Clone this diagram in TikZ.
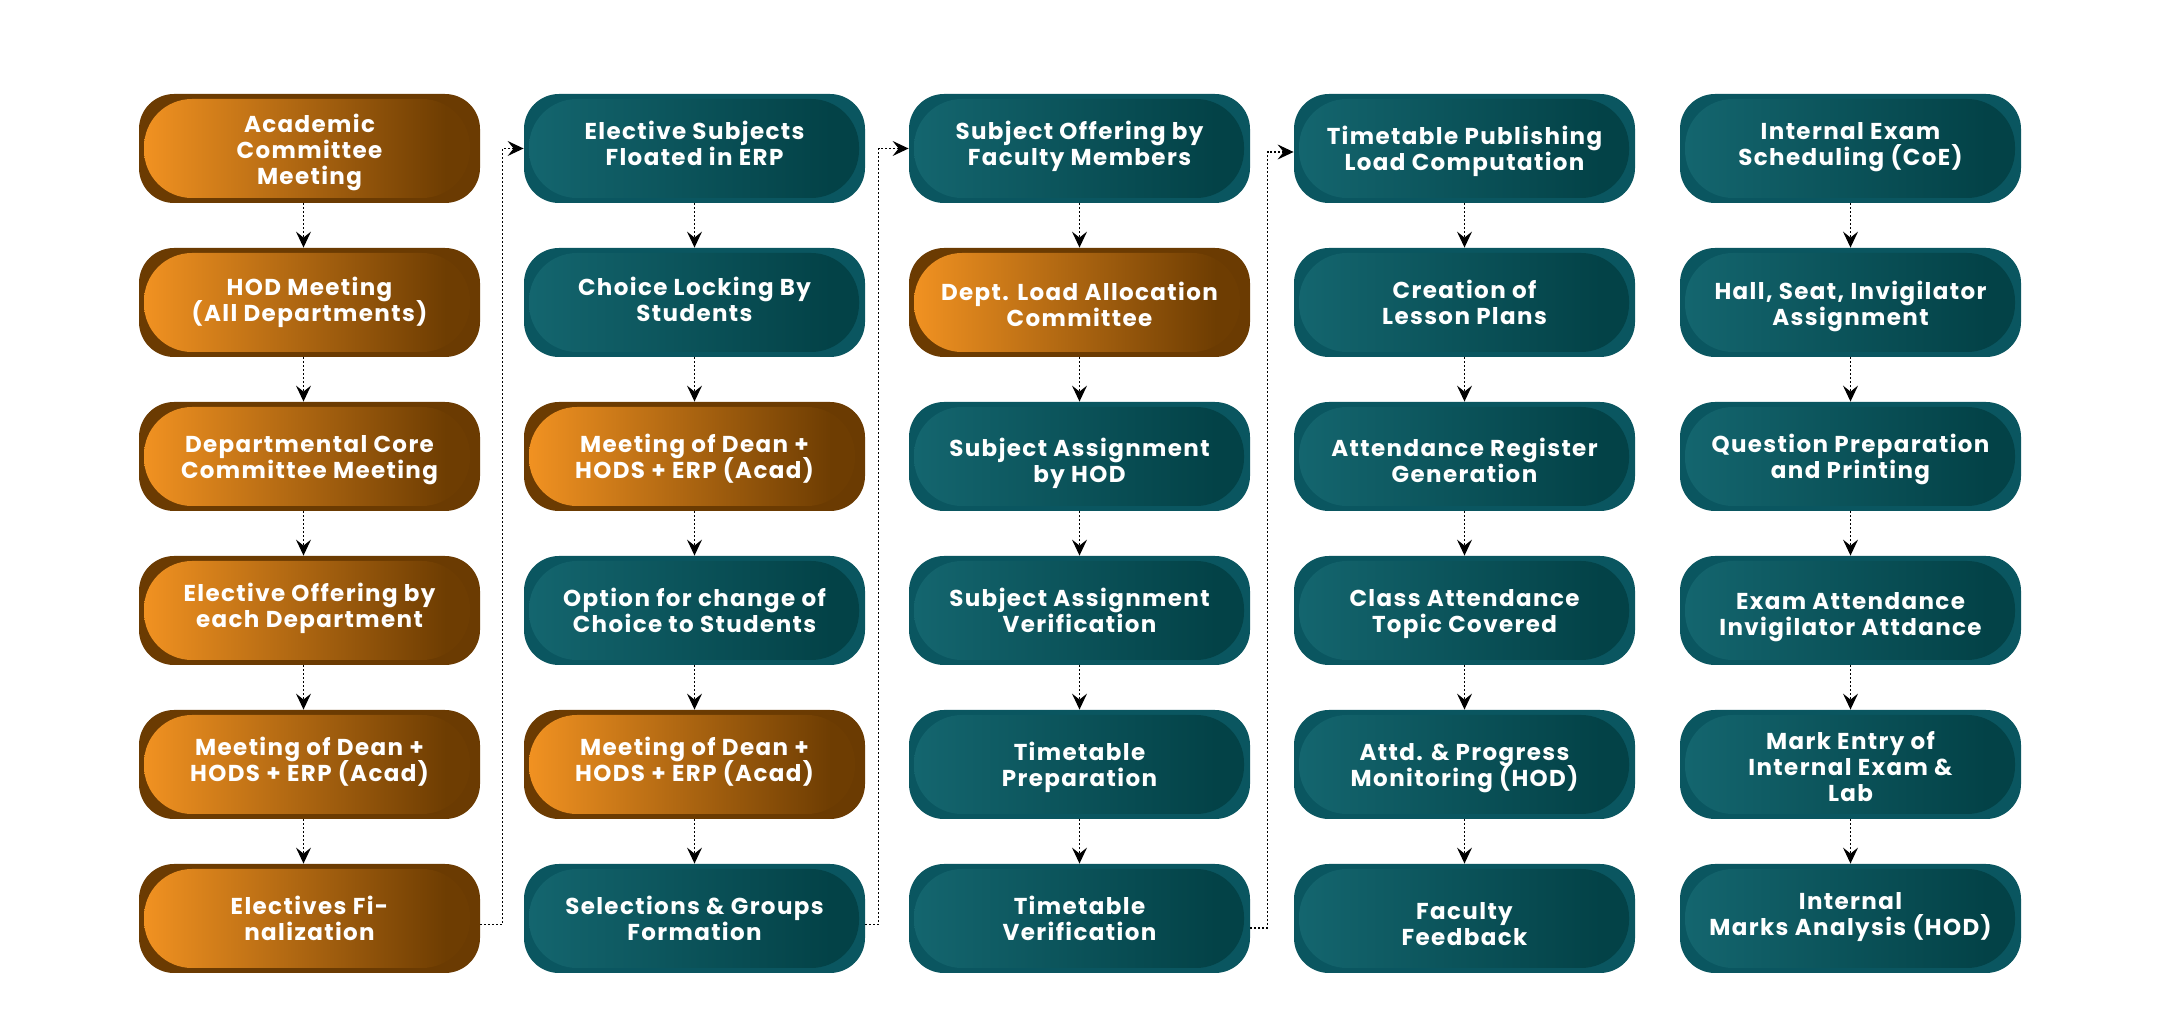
\documentclass[tikz,border=0pt]{standalone}
\usepackage{fontspec}
\setmainfont{Poppins}[LetterSpace=6]
\usetikzlibrary{arrows.meta,calc}
\definecolor{orA}{HTML}{F39322}
\definecolor{orB}{HTML}{6E3D02}
\definecolor{orOut}{HTML}{6B3B02}
\definecolor{tlA}{HTML}{14666F}
\definecolor{tlB}{HTML}{034247}
\definecolor{tlOut}{HTML}{0A5660}
\pgfdeclarehorizontalshading{orsh}{100bp}{color(0bp)=(orA); color(25bp)=(orA); color(70bp)=(orB); color(100bp)=(orB)}
\pgfdeclarehorizontalshading{tlsh}{100bp}{color(0bp)=(tlA); color(25bp)=(tlA); color(70bp)=(tlB); color(100bp)=(tlB)}
\tikzset{
  stepbox/.style={rectangle, rounded corners=17.5pt, minimum width=170.5pt, minimum height=54.5pt, inner sep=0pt, draw=none},
  orbox/.style={stepbox, fill=orOut, path picture={\shade[shading=orsh, rounded corners=24pt] ($(path picture bounding box.north west)+(2.5pt,-2.5pt)$) rectangle ($(path picture bounding box.south east)+(-5pt,2.5pt)$);}},
  tlbox/.style={stepbox, fill=tlOut, path picture={\shade[shading=tlsh, rounded corners=24pt] ($(path picture bounding box.north west)+(2.5pt,-2.5pt)$) rectangle ($(path picture bounding box.south east)+(-3pt,2.5pt)$);}},
  txt/.style={text=white, font=\bfseries\fontsize{11.5}{13}\selectfont, align=center, inner sep=0pt},
  conn/.style={draw=black, line width=0.7pt, dash pattern=on 1pt off 1pt, -{Stealth[length=8pt,width=7.5pt,inset=3pt]}}
}
% each text line is smashed, so a block is centred on its capital letters
\newcommand{\LN}[1]{\smash{#1}}
\newcommand{\stepnode}[6]{%
  \node[#1] (#2) at (#3,#4) {};
  \node[txt] (#2t) at ($(#2.center)+(0,#5+1.5)$) {\rule{0pt}{8pt}#6};}
\begin{document}
\begin{tikzpicture}[x=0.5pt,y=-0.5pt]
\useasboundingbox[fill=white] (0,0) rectangle (2160,1036);
% column 1
\stepnode{orbox}{c1r1}{309.5}{148.5}{1}{\LN{Academic}\\\LN{Committee}\\\LN{Meeting}}
\stepnode{orbox}{c1r2}{309.5}{302.5}{-3}{\LN{HOD Meeting}\\\LN{(All Departments)}}
\stepnode{orbox}{c1r3}{309.5}{456.5}{0}{\LN{Departmental Core}\\\LN{Committee Meeting}}
\stepnode{orbox}{c1r4}{309.5}{610.5}{-5}{\LN{Elective Offering by}\\\LN{each Department}}
\stepnode{orbox}{c1r5}{309.5}{764.5}{-5}{\LN{Meeting of Dean +}\\\LN{HODS + ERP (Acad)}}
\stepnode{orbox}{c1r6}{309.5}{918.5}{0}{\LN{Electives Fi-}\\\LN{nalization}}
% column 2
\stepnode{tlbox}{c2r1}{694.5}{148.5}{-5}{\LN{Elective Subjects}\\\LN{Floated in ERP}}
\stepnode{tlbox}{c2r2}{694.5}{302.5}{-3}{\LN{Choice Locking By}\\\LN{Students}}
\stepnode{orbox}{c2r3}{694.5}{456.5}{0}{\LN{Meeting of Dean +}\\\LN{HODS + ERP (Acad)}}
\stepnode{tlbox}{c2r4}{694.5}{610.5}{0}{\LN{Option for change of}\\\LN{Choice to Students}}
\stepnode{orbox}{c2r5}{694.5}{764.5}{-5}{\LN{Meeting of Dean +}\\\LN{HODS + ERP (Acad)}}
\stepnode{tlbox}{c2r6}{694.5}{918.5}{0}{\LN{Selections \& Groups}\\\LN{Formation}}
% column 3
\stepnode{tlbox}{c3r1}{1079.5}{148.5}{-5}{\LN{Subject Offering by}\\\LN{Faculty Members}}
\stepnode{orbox}{c3r2}{1079.5}{302.5}{2}{\LN{Dept. Load Allocation}\\\LN{Committee}}
\stepnode{tlbox}{c3r3}{1079.5}{456.5}{4}{\LN{Subject Assignment}\\\LN{by HOD}}
\stepnode{tlbox}{c3r4}{1079.5}{610.5}{0}{\LN{Subject Assignment}\\\LN{Verification}}
\stepnode{tlbox}{c3r5}{1079.5}{764.5}{0}{\LN{Timetable}\\\LN{Preparation}}
\stepnode{tlbox}{c3r6}{1079.5}{918.5}{0}{\LN{Timetable}\\\LN{Verification}}
% column 4
\stepnode{tlbox}{c4r1}{1464.5}{148.5}{0}{\LN{Timetable Publishing}\\\LN{Load Computation}}
\stepnode{tlbox}{c4r2}{1464.5}{302.5}{0}{\LN{Creation of}\\\LN{Lesson Plans}}
\stepnode{tlbox}{c4r3}{1464.5}{456.5}{4}{\LN{Attendance Register}\\\LN{Generation}}
\stepnode{tlbox}{c4r4}{1464.5}{610.5}{0}{\LN{Class Attendance}\\\LN{Topic Covered}}
\stepnode{tlbox}{c4r5}{1464.5}{764.5}{0}{\LN{Attd. \& Progress}\\\LN{Monitoring (HOD)}}
\stepnode{tlbox}{c4r6}{1464.5}{918.5}{5}{\LN{Faculty}\\\LN{Feedback}}
% column 5
\stepnode{tlbox}{c5r1}{1850.5}{148.5}{-5}{\LN{Internal Exam}\\\LN{Scheduling (CoE)}}
\stepnode{tlbox}{c5r2}{1850.5}{302.5}{1}{\LN{Hall, Seat, Invigilator}\\\LN{Assignment}}
\stepnode{tlbox}{c5r3}{1850.5}{456.5}{0}{\LN{Question Preparation}\\\LN{and Printing}}
\stepnode{tlbox}{c5r4}{1850.5}{610.5}{3}{\LN{Exam Attendance}\\\LN{Invigilator Attdance}}
\stepnode{tlbox}{c5r5}{1850.5}{764.5}{2}{\LN{Mark Entry of}\\\LN{Internal Exam \&}\\\LN{Lab}}
\stepnode{tlbox}{c5r6}{1850.5}{918.5}{-5}{\LN{Internal}\\\LN{Marks Analysis (HOD)}}
% vertical connectors
\foreach \r [evaluate=\r as \n using int(\r+1)] in {1,...,5}{
  \draw[conn] ([xshift=-3pt]c1r\r.south) -- ([xshift=-3pt]c1r\n.north);
  \foreach \c in {2,...,5}{
    \draw[conn] (c\c r\r.south) -- (c\c r\n.north);
  }
}
% column-to-column connectors
\draw[conn] ([yshift=-3pt]c1r6.east) -| ([xshift=-10.5pt]c2r1.west) -- (c2r1.west);
\draw[conn] ([yshift=-3pt]c2r6.east) -| ([xshift=-15pt]c3r1.west) -- (c3r1.west);
\draw[conn] ([yshift=-4.75pt]c3r6.east) -| ([xshift=-13pt,yshift=-1.75pt]c4r1.west) -- ([yshift=-1.75pt]c4r1.west);
\end{tikzpicture}
\end{document}
